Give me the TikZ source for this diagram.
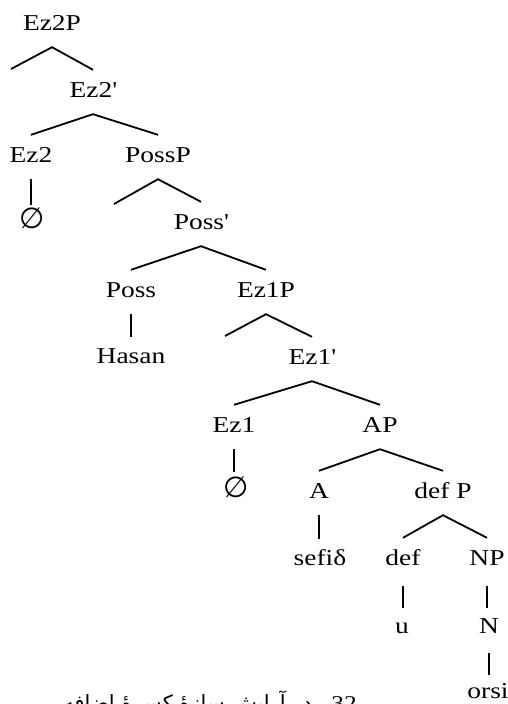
\documentclass[tikz,border=0pt]{standalone}
\usepackage{fontspec}
\setmainfont{Liberation Serif}[FakeStretch=1.21]
\newfontfamily\farsifont[Script=Arabic]{DejaVu Sans}
\newfontfamily\nilfont{DejaVu Sans}
\TeXXeTstate=1
\usetikzlibrary{positioning}

\begin{document}
\begin{tikzpicture}[x=1pt, y=-1pt,
		lbl/.style={anchor=base, inner sep=0pt, text height=15pt, text depth=4pt,
			font=\fontsize{22.7}{27}\selectfont},
		nil/.style={lbl, font=\nilfont\fontsize{29}{33}\selectfont},
		br/.style={line width=1.8pt}]
				\clip (0,0) rectangle (507,704);
				
				%% Nós da árvore
				\node [lbl] (ez2p) at (52,30) {Ez2P};
				\node [lbl] (ez2bar) at (93,97) {Ez2\textquotesingle};
				\node [lbl] (ez2) at (31,162) {Ez2};
				\node [lbl] (possp) at (158,162) {PossP};
				\node [nil] (nil2) at (32,228) {∅};
				\node [lbl] (possbar) at (201,229) {Poss\textquotesingle};
				\node [lbl] (poss) at (131,297) {Poss};
				\node [lbl] (ez1p) at (266,297) {Ez1P};
				\node [lbl] (hasan) at (131,363) {Hasan};
				\node [lbl] (ez1bar) at (312,364) {Ez1\textquotesingle};
				\node [lbl] (ez1) at (234,432) {Ez1};
				\node [lbl] (ap) at (380,432) {AP};
				\node [nil] (nil1) at (236,497) {∅};
				\node [lbl] (a) at (319,498) {A};
				\node [lbl] (defp) at (443,498) {def P};
				\node [lbl] (sefi) at (320,565) {sefiδ};
				\node [lbl] (def) at (403,565) {def};
				\node [lbl] (np) at (487,565) {NP};
				\node [lbl] (u) at (402,633) {u};
				\node [lbl] (n) at (489,633) {N};
				\node [lbl] (orsi) at (488,698) {orsi};
				
				%% Especificadores vazios
				\coordinate (ez2spec) at (11,69);
				\coordinate (possspec) at (114,204);
				\coordinate (ez1spec) at (225,336);
				
				%% Ramos
				\draw [br] (ez2spec) -- ([yshift=-13pt]ez2p.south) -- ([yshift=12pt]ez2bar.north);
				\draw [br] ([yshift=12pt]ez2.north) -- ([yshift=-13pt]ez2bar.south) -- ([yshift=12pt]possp.north);
				\draw [br] (possspec) -- ([yshift=-13pt]possp.south) -- ([yshift=12pt]possbar.north);
				\draw [br] ([yshift=12pt]poss.north) -- ([yshift=-13pt]possbar.south) -- ([yshift=12pt]ez1p.north);
				\draw [br] (ez1spec) -- ([yshift=-13pt]ez1p.south) -- ([yshift=12pt]ez1bar.north);
				\draw [br] ([yshift=12pt]ez1.north) -- ([yshift=-13pt]ez1bar.south) -- ([yshift=12pt]ap.north);
				\draw [br] ([yshift=12pt]a.north) -- ([yshift=-13pt]ap.south) -- ([yshift=12pt]defp.north);
				\draw [br] ([yshift=12pt]def.north) -- ([yshift=-13pt]defp.south) -- ([yshift=12pt]np.north);
				
				%% Linhas verticais
				\draw [br] ([yshift=-13pt]ez2.south) -- ([yshift=8pt]ez2.south |- nil2.north);
				\draw [br] ([yshift=-13pt]poss.south) -- ([yshift=11pt]poss.south |- hasan.north);
				\draw [br] ([yshift=-13pt]ez1.south) -- ([yshift=10pt]ez1.south |- nil1.north);
				\draw [br] ([yshift=-13pt]a.south) -- ([yshift=11pt]a.south |- sefi.north);
				\draw [br] ([yshift=-17pt]def.south) -- ([yshift=10pt]def.south |- u.north);
				\draw [br] ([yshift=-17pt]np.south) -- ([yshift=10pt]np.south |- n.north);
				\draw [br] ([yshift=-16pt]n.south) -- ([yshift=8pt]n.south |- orsi.north);
				
				%% Legenda cortada
				\node [anchor=base east, inner sep=0pt, font=\fontsize{21}{25}\selectfont] (caption) at (357,710)
				{\farsifont\beginR\beginL{\rmfamily 32}\endL{} ـ در آرایش سازهٔ کسرهٔ اضافه\endR};
				
			\end{tikzpicture}
\end{document}
